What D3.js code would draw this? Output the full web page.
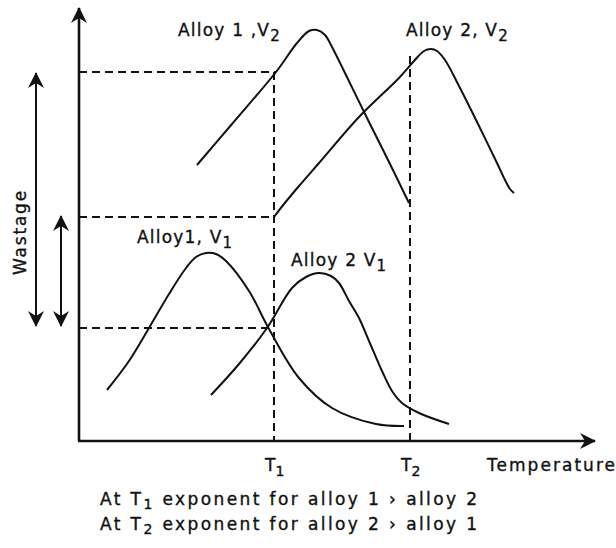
<!DOCTYPE html>
<html><head><meta charset="utf-8">
<script src="https://cdn.jsdelivr.net/npm/d3@7"></script>
<style>body{margin:0;background:#fff}svg{display:block}text{font-family:"DejaVu Sans",sans-serif;fill:#111;stroke:#111;stroke-width:0.35px;white-space:pre}</style>
</head><body><svg id="c" width="616" height="548"></svg>
<script>
// Schematic data (arbitrary units: temperature, wastage)
const alloy1V2 = [[118,276],[153,317],[197,369],[218,398],[230,410],[238,411],[246,406],[253,394],[265,370],[290,319],[310,279],[330,238]];
const alloy2V2 = [[195,224],[205,237],[220,255],[240,278],[280,324],[320,363],[335,380],[345,390],[352,392],[358,390],[366,381],[380,355],[400,315],[418,278],[426,261],[431,252],[435,248]];
const alloy1V1 = [[28,51],[50,80],[70,113],[90,147],[107,173],[117,184],[127,188],[137,187],[147,180],[170,150],[190,112],[220,63],[253,33],[297,17],[325,15]];
const alloy2V1 = [[132,46],[160,77],[188,113],[213,153],[227,164],[240,168],[252,165],[260,158],[270,140],[280,123],[290,100],[303,70],[313,50],[323,38],[340,28],[370,17]];
const levels = [369, 224, 113];          // dashed wastage levels
const levelEnds = [197, 195, 188];       // where each level meets its curve
const temps = [195, 331];                // T1, T2
const tempTops = [369, 385];
const tempLabels = ["1", "2"];
const labels = [
  {name:"Alloy 1 ,V", sub:"2", x:99, y:405},
  {name:"Alloy 2, V", sub:"2", x:327, y:405},
  {name:"Alloy1, V", sub:"1", x:58, y:198},
  {name:"Alloy 2 V", sub:"1", x:212, y:175}
];
const notes = [["At T","1"," exponent for alloy 1 › alloy 2"],["At T","2"," exponent for alloy 2 › alloy 1"]];

const svg = d3.select("#c");
const x = d3.scaleLinear().domain([0,510]).range([79,589]);
const y = d3.scaleLinear().domain([0,430]).range([441,11]);
const line = d3.line().x(d=>x(d[0])).y(d=>y(d[1])).curve(d3.curveCatmullRom.alpha(0.5));

const defs = svg.append("defs");
function head(id, orient){
  defs.append("marker").attr("id",id).attr("viewBox","0 0 16 16").attr("refX",15).attr("refY",8)
    .attr("markerWidth",16).attr("markerHeight",16).attr("markerUnits","userSpaceOnUse").attr("orient",orient)
    .append("path").attr("d","M0,0 L16,8 L0,16 L5,8 Z").attr("fill","#111");
}
head("ah","auto"); head("ahs","auto-start-reverse");

// axes
svg.append("line").attr("x1",x(0)).attr("y1",y(0)).attr("x2",x(0)).attr("y2",y(433))
  .attr("stroke","#111").attr("stroke-width",2.6).attr("marker-end","url(#ah)");
svg.append("line").attr("x1",x(0)-1).attr("y1",y(0)).attr("x2",x(516)).attr("y2",y(0))
  .attr("stroke","#111").attr("stroke-width",2.6).attr("marker-end","url(#ah)");

// dashed guides
const dash = "8,5";
levels.forEach((l,i)=>{
  svg.append("line").attr("x1",x(0)).attr("x2",x(levelEnds[i])).attr("y1",y(l)).attr("y2",y(l))
    .attr("stroke","#111").attr("stroke-width",2).attr("stroke-dasharray",dash);
});
temps.forEach((t,i)=>{
  svg.append("line").attr("x1",x(t)).attr("x2",x(t)).attr("y1",y(tempTops[i])).attr("y2",y(0))
    .attr("stroke","#111").attr("stroke-width",2).attr("stroke-dasharray",dash);
  const tx = svg.append("text").attr("x",x(t)-9).attr("y",471).attr("font-size",17).text("T");
  tx.append("tspan").attr("dy",5).attr("font-size",14).text(tempLabels[i]);
});
svg.append("text").attr("x",487).attr("y",471).attr("font-size",17).attr("textLength",128).text("Temperature");

// curves
[alloy1V2, alloy2V2, alloy1V1, alloy2V1].forEach(c=>{
  svg.append("path").attr("d",line(c)).attr("fill","none").attr("stroke","#111").attr("stroke-width",2);
});

// curve labels
labels.forEach(l=>{
  const t = svg.append("text").attr("x",x(l.x)).attr("y",y(l.y)).attr("font-size",17).attr("letter-spacing",1.2).text(l.name);
  t.append("tspan").attr("dy",5).attr("font-size",15).text(l.sub);
});

// wastage arrows
svg.append("line").attr("x1",36).attr("x2",36).attr("y1",326).attr("y2",73)
  .attr("stroke","#111").attr("stroke-width",2).attr("marker-end","url(#ah)").attr("marker-start","url(#ahs)");
svg.append("line").attr("x1",61).attr("x2",61).attr("y1",326).attr("y2",216)
  .attr("stroke","#111").attr("stroke-width",2).attr("marker-end","url(#ah)").attr("marker-start","url(#ahs)");
svg.append("text").attr("transform","translate(26,232) rotate(-90)").attr("text-anchor","middle")
  .attr("font-size",17).attr("letter-spacing",1.8).text("Wastage");

// footnote
notes.forEach((n,i)=>{
  const t = svg.append("text").attr("x",100).attr("y",505+i*25).attr("font-size",17).attr("letter-spacing",2.4);
  t.append("tspan").text(n[0]);
  t.append("tspan").attr("dy",4).attr("font-size",14).text(n[1]);
  t.append("tspan").attr("dy",-4).text(n[2]);
});
</script></body></html>
